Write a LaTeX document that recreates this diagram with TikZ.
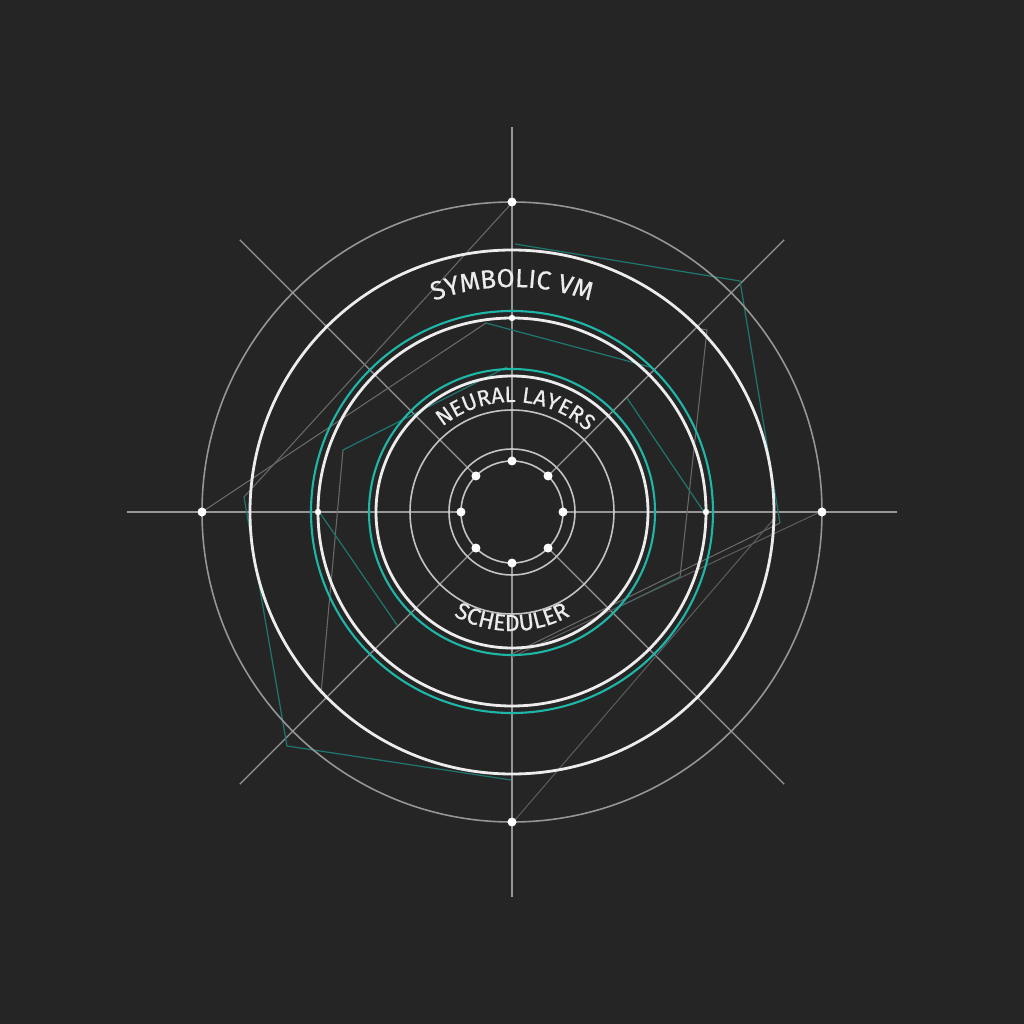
\documentclass[tikz,border=0pt]{standalone}
\usepackage{fontspec}
\setsansfont{Fira Sans}[FakeBold=0.5]
\usepackage{xcolor}
\usetikzlibrary{decorations.text}

\begin{document}
\begin{tikzpicture}[x=0.01cm,y=0.01cm]
				% 颜色列表
				\definecolor{mybg}{RGB}{37,37,37}
				\definecolor{mywhite}{RGB}{236,236,236}
				\definecolor{mygray}{RGB}{150,150,150}
				\definecolor{mydgray}{RGB}{105,105,105}
				\definecolor{myteal}{RGB}{30,182,166}
				\definecolor{mydteal}{RGB}{30,118,110}
				% 背景
				\fill[mybg] (-512,-512) rectangle (512,512);
				
				% 辐射线
				\foreach \a in {0,45,...,315}
				\draw[mygray, line width=0.35pt] (\a:51) -- (\a:385);
				
				% 折线
				\draw[mydteal, line width=0.35pt] (3,268) -- (228,231) -- (268,-11);
				\draw[mydgray, line width=0.3pt] (268,-11) -- (0,-142);
				\draw[mydgray, line width=0.3pt] (-2,307) -- (-268,15);
				\draw[mydteal, line width=0.35pt] (-268,15) -- (-225,-234) -- (-1,-268);
				\draw[mydgray, line width=0.3pt] (183,184) -- (195,182) -- (168,-65);
				\draw[mydteal, line width=0.35pt] (168,-65) -- (111,-93);
				\draw[mydteal, line width=0.35pt] (-26,189) -- (138,145);
				\draw[mydteal, line width=0.35pt] (115,114) -- (192,0);
				\draw[mydgray, line width=0.3pt] (-310,0) -- (-26,189);
				\draw[mydgray, line width=0.3pt] (-169,62) -- (-191,-182);
				\draw[mydteal, line width=0.35pt] (-5,145) -- (-169,62);
				\draw[mydteal, line width=0.35pt] (-192,-1) -- (-115,-113);
				\draw[mydgray!80!mybg, line width=0.3pt] (308,0) -- (0,-145);
				\draw[mydgray!80!mybg, line width=0.3pt] (261,-8) -- (3,-308);
				
				% 同心圆
				\draw[mygray, line width=0.45pt] (0,0) circle (310);
				\draw[mywhite, line width=0.8pt] (0,0) circle (262);
				\draw[myteal, line width=0.6pt] (0,0) circle (201);
				\draw[mywhite, line width=0.8pt] (0,0) circle (194);
				\draw[myteal, line width=0.6pt] (0,0) circle (143);
				\draw[mywhite, line width=0.8pt] (0,0) circle (136);
				\draw[mywhite!80!mybg, line width=0.45pt] (0,0) circle (102);
				\draw[mywhite!80!mybg, line width=0.45pt] (0,0) circle (63);
				\draw[mywhite!80!mybg, line width=0.45pt] (0,0) circle (51);
				
				% 节点
				\foreach \a in {0,90,180,270}
				\fill[white] (\a:310) circle (4.5);
				
				\foreach \a in {0,90,180}
				\fill[white] (\a:194) circle (3.2);
				
				\foreach \a in {0,45,...,315}
				\fill[white] (\a:51) circle (4.5);
				
				% 环形文字
				\path[decorate, decoration={text along path, text align=center, text color=mywhite,
					text={|\sffamily\fontsize{7.4}{9}\selectfont|SYMBOLIC VM}}]
				(125:225) arc (125:55:225);
				
				\path[decorate, decoration={text along path, text align=center, text color=mywhite,
					text={|\sffamily\fontsize{6.3}{7}\selectfont|NEURAL LAYERS}}]
				(140:110) arc (140:36:110);
				
				\path[decorate, decoration={text along path, text align=center, text color=mywhite,
					text={|\sffamily\fontsize{6.6}{8}\selectfont|SCHEDULER}}]
				(220:119) arc (220:320:119);
				
			\end{tikzpicture}
\end{document}
